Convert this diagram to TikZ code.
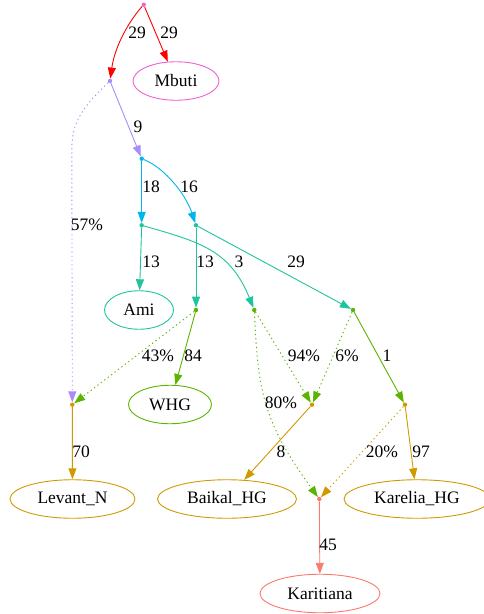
\documentclass[tikz,border=0pt]{standalone}
\usepackage{fontspec}
\setmainfont{Liberation Serif}
\usetikzlibrary{arrows.meta,shapes.geometric}
\definecolor{cmag}{HTML}{F060D0}
\definecolor{cred}{HTML}{FF0000}
\definecolor{clav}{HTML}{A88CFA}
\definecolor{csky}{HTML}{00B5EC}
\definecolor{cteal}{HTML}{1EC49E}
\definecolor{cgreen}{HTML}{5BB400}
\definecolor{cgold}{HTML}{CF9A00}
\definecolor{csal}{HTML}{FA7A70}
\begin{document}
\begin{tikzpicture}[x=1pt,y=-1pt,
  dotn/.style={circle,fill=#1,draw=none,inner sep=0pt,minimum size=4.4pt},
  popn/.style={ellipse,draw=#1,line width=0.9pt,minimum height=38.5pt,inner sep=0pt,font=\fontsize{17.5}{20}\selectfont},
  conn/.style={color=#1,line width=0.9pt,-{Triangle[length=11pt,width=8pt]}},
  dconn/.style={conn=#1,dash pattern=on 1.3pt off 3pt},
  lbl/.style={font=\fontsize{17.5}{20}\selectfont,inner sep=0pt}]
\useasboundingbox (0,0) rectangle (483,614);
% junction dots
\node[dotn=cmag] (root) at (143.7,4.7) {};
\node[dotn=clav] (A) at (110,81) {};
\node[dotn=csky] (B) at (141.7,158.7) {};
\node[dotn=cteal] (C) at (141.7,225.3) {};
\node[dotn=cteal] (D) at (196,225.3) {};
\node[dotn=cgreen] (F) at (196,310) {};
\node[dotn=cgreen] (E) at (254.3,310) {};
\node[dotn=cgreen] (G) at (353,310) {};
\node[dotn=cgold] (L) at (72.3,404.7) {};
\node[dotn=cgold] (H) at (312,404.7) {};
\node[dotn=cgold] (I) at (405,404.7) {};
\node[dotn=csal] (K) at (319.3,499) {};
% populations
\node[popn=cmag,minimum width=86pt] (mbuti) at (176,81) {Mbuti};
\node[popn=cteal,minimum width=69pt] (ami) at (139,310) {Ami};
\node[popn=cgreen,minimum width=83pt] (whg) at (170,404.5) {WHG};
\node[popn=cgold,minimum width=125pt] (levant) at (72.5,499) {Levant\_N};
\node[popn=cgold,minimum width=139pt] (baikal) at (227,499) {Baikal\_HG};
\node[popn=cgold,minimum width=146pt] (karelia) at (417,499) {Karelia\_HG};
\node[popn=csal,minimum width=120pt] (karit) at (320,593.5) {Karitiana};
% edges
\draw[conn=cred] (root) .. controls (130,20) and (115,45) .. (A);
\draw[conn=cred] (root) -- (mbuti);
\draw[conn=clav] (A) -- (B);
\draw[dconn=clav] (A) .. controls (85,105) and (71.5,120) .. (71.8,150) -- (L);
\draw[conn=csky] (B) -- (C);
\draw[conn=csky] (B) .. controls (165,168) and (186,195) .. (D);
\draw[conn=cteal] (C) -- (ami);
\draw[conn=cteal] (C) .. controls (200,242) and (230,250) .. (E);
\draw[conn=cteal] (D) -- (F);
\draw[conn=cteal] (D) -- (G);
\draw[conn=cgreen] (F) -- (whg);
\draw[dconn=cgreen] (F) -- (L);
\draw[dconn=cgreen] (E) -- (H);
\draw[dconn=cgreen] (E) .. controls (258,390) and (262,420) .. (K);
\draw[dconn=cgreen] (G) -- (H);
\draw[conn=cgreen] (G) -- (I);
\draw[conn=cgold] (L) -- (levant);
\draw[conn=cgold] (H) -- (baikal);
\draw[conn=cgold] (I) -- (karelia);
\draw[dconn=cgold] (I) -- (K);
\draw[conn=csal] (K) -- (karit);
% labels
\node[lbl] (l1) at (137,33) {29};
\node[lbl] (l2) at (169,33) {29};
\node[lbl] (l3) at (138,127) {9};
\node[lbl] (l4) at (151,187) {18};
\node[lbl] (l5) at (189,187) {16};
\node[lbl] (l6) at (87,225) {57\%};
\node[lbl] (l7) at (151,262) {13};
\node[lbl] (l8) at (205,262) {13};
\node[lbl] (l9) at (239,262) {3};
\node[lbl] (l10) at (296,262) {29};
\node[lbl] (l11) at (158,356) {43\%};
\node[lbl] (l12) at (193,356) {84};
\node[lbl] (l13) at (304,356) {94\%};
\node[lbl] (l14) at (347,356) {6\%};
\node[lbl] (l15) at (387,356) {1};
\node[lbl] (l16) at (281,403) {80\%};
\node[lbl] (l17) at (81,452) {70};
\node[lbl] (l18) at (281,452) {8};
\node[lbl] (l19) at (382,452) {20\%};
\node[lbl] (l20) at (421,452) {97};
\node[lbl] (l21) at (328,545) {45};
\end{tikzpicture}
\end{document}
